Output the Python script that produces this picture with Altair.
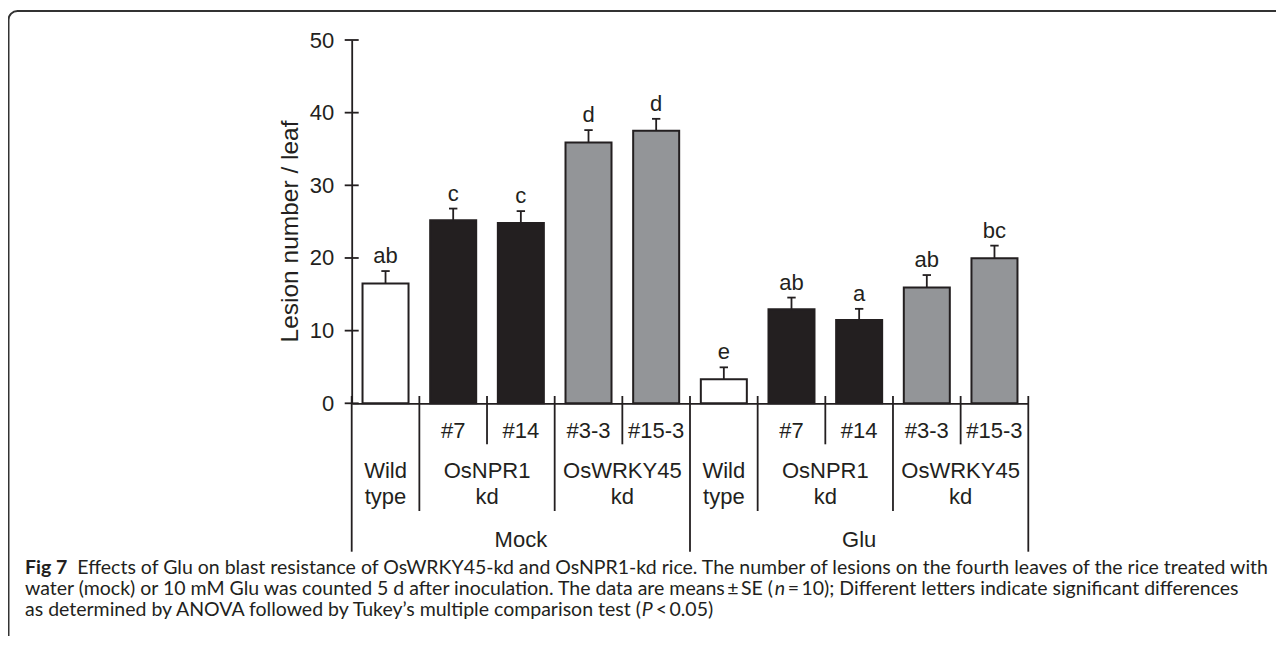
import altair as alt
import pandas as pd

# ---- data ----
treatments = ["Mock"] * 5 + ["Glu"] * 5
genotypes = ["Wild type", "OsNPR1 kd", "OsNPR1 kd", "OsWRKY45 kd", "OsWRKY45 kd"] * 2
lines = ["", "#7", "#14", "#3-3", "#15-3"] * 2
means = [16.5, 25.2, 24.8, 35.9, 37.5, 3.3, 12.95, 11.45, 15.95, 19.95]
ses = [1.7, 1.6, 1.65, 1.7, 1.65, 1.65, 1.6, 1.55, 1.7, 1.75]
letters = ["ab", "c", "c", "d", "d", "e", "ab", "a", "ab", "bc"]
y_ticks = [0, 10, 20, 30, 40, 50]
caption_bold = "Fig 7"
caption_1 = "Effects of Glu on blast resistance of OsWRKY45-kd and OsNPR1-kd rice. The number of lesions on the fourth leaves of the rice treated with"
caption_2a = "water (mock) or 10 mM Glu was counted 5 d after inoculation. The data are means\u2009\u00b1\u2009SE ("
caption_2b = "n"
caption_2c = "\u2009=\u200910); Different letters indicate significant differences"
caption_3a = "as determined by ANOVA followed by Tukey\u2019s multiple comparison test ("
caption_3b = "P"
caption_3c = "\u2009<\u20090.05)"

INK = "#231f20"
FONT = "Liberation Sans"
CFONT = "Lato"
LW = 1.8

n = len(means)
df = pd.DataFrame({
    "i": list(range(n)),
    "treatment": treatments,
    "genotype": genotypes,
    "line": lines,
    "mean": means,
    "se": ses,
    "letter": letters,
})
df["c"] = df["i"] + 0.5
df["top"] = df["mean"] + df["se"]

# group label positions (centres of the groups)
geno_df = df.groupby(["treatment", "genotype"], sort=False)["c"].mean().reset_index()
treat_df = df.groupby("treatment", sort=False)["c"].mean().reset_index()

# separators between categories
sep1, sep2, sep3 = [], [], [0]
for k in range(n - 1):
    if treatments[k] != treatments[k + 1]:
        sep3.append(k + 1)
    elif genotypes[k] != genotypes[k + 1]:
        sep2.append(k + 1)
    else:
        sep1.append(k + 1)
sep3.append(n)

xs = alt.Scale(domain=[0, n], nice=False, zero=False)
ys = alt.Scale(domain=[0, 50], nice=False)

base = alt.Chart(df)

bars = base.mark_bar(stroke=INK, strokeWidth=2).transform_calculate(
    x0="datum.c - 0.34", x1="datum.c + 0.34"
).encode(
    x=alt.X("x0:Q", scale=xs, axis=alt.Axis(labels=False, ticks=False, title=None, grid=False,
                                             domainColor=INK, domainWidth=LW)),
    x2="x1:Q",
    y=alt.Y("mean:Q", scale=ys, axis=alt.Axis(values=y_ticks, ticks=False, grid=False,
                                               labelPadding=18, labelFontSize=22, labelFont=FONT,
                                               labelColor=INK, domainColor=INK, domainWidth=LW,
                                               title="Lesion number / leaf", titleFont=FONT,
                                               titleFontSize=24.5, titleFontWeight="normal",
                                               titleColor=INK, titlePadding=7, titleY=191)),
    y2=alt.datum(0),
    fill=alt.Fill("genotype:N", scale=alt.Scale(domain=["Wild type", "OsNPR1 kd", "OsWRKY45 kd"],
                                                range=["#ffffff", INK, "#939598"]), legend=None),
)

err = base.mark_rule(color=INK, strokeWidth=LW).encode(
    x=alt.X("c:Q", scale=xs), y=alt.Y("mean:Q", scale=ys), y2="top:Q"
)
caps = base.mark_rule(color=INK, strokeWidth=LW).transform_calculate(
    a="datum.c - 0.062", b="datum.c + 0.062"
).encode(x=alt.X("a:Q", scale=xs), x2="b:Q", y=alt.Y("top:Q", scale=ys))

lett = base.mark_text(font=FONT, fontSize=22, color=INK, baseline="alphabetic", dy=-8).encode(
    x=alt.X("c:Q", scale=xs), y=alt.Y("top:Q", scale=ys), text="letter:N"
)

ticks = alt.Chart(pd.DataFrame({"t": y_ticks})).mark_rule(color=INK, strokeWidth=LW).encode(
    x=alt.value(-7), x2=alt.value(7), y=alt.Y("t:Q", scale=ys)
)

# category table under the axis
strain_txt = base.transform_filter("datum.line != ''").mark_text(
    font=FONT, fontSize=22, color=INK, baseline="alphabetic"
).encode(x=alt.X("c:Q", scale=xs), y=alt.value(398.3), text="line:N")

geno_txt = alt.Chart(geno_df).mark_text(
    font=FONT, fontSize=22, color=INK, baseline="alphabetic", lineBreak=" ", lineHeight=25.5
).encode(x=alt.X("c:Q", scale=xs), y=alt.value(438.3), text="genotype:N")

treat_txt = alt.Chart(treat_df).mark_text(
    font=FONT, fontSize=22, color=INK, baseline="alphabetic"
).encode(x=alt.X("c:Q", scale=xs), y=alt.value(506.7), text="treatment:N")

def seps(vals, bottom):
    return alt.Chart(pd.DataFrame({"s": vals})).mark_rule(color=INK, strokeWidth=LW).encode(
        x=alt.X("s:Q", scale=xs), y=alt.value(356), y2=alt.value(bottom)
    )

s1 = seps(sep1, 404.3)
s2 = seps(sep2, 471)
s3 = seps(sep3, 511.7)

# caption + frame
one = pd.DataFrame({"k": [0]})
frame = alt.Chart(one).mark_rect(fillOpacity=0, stroke="#333333", strokeWidth=2, cornerRadius=9).encode(
    x=alt.value(-343.2), x2=alt.value(960), y=alt.value(-29), y2=alt.value(610)
)

def cap(txt, x, y, **kw):
    return alt.Chart(one).mark_text(text=txt, font=CFONT, fontSize=19.5, color=INK, align="left",
                                    baseline="alphabetic", **kw).encode(x=alt.value(x), y=alt.value(y))

L1, L2, L3 = 533.5, 554.5, 575.5
X0 = -326.7
caps_txt = [
    cap(caption_bold, X0, L1, fontWeight="bold"),
    cap(caption_1, -274.4, L1),
    cap(caption_2a, X0, L2),
    cap(caption_2b, 423, L2, fontStyle="italic"),
    cap(caption_2c, 436, L2),
    cap(caption_3a, X0, L3),
    cap(caption_3b, 290, L3, fontStyle="italic"),
    cap(caption_3c, 304, L3),
]

chart = alt.layer(
    frame, bars, err, caps, lett, ticks, strain_txt, geno_txt, treat_txt, s1, s2, s3, *caps_txt
).properties(
    width=676.6, height=363.3,
    padding={"left": 343.7, "top": 32, "right": 247.7, "bottom": 232.7},
    autosize="none",
).configure_view(stroke=None)

chart.save("out.html", embed_options={"renderer": "svg", "actions": False})
